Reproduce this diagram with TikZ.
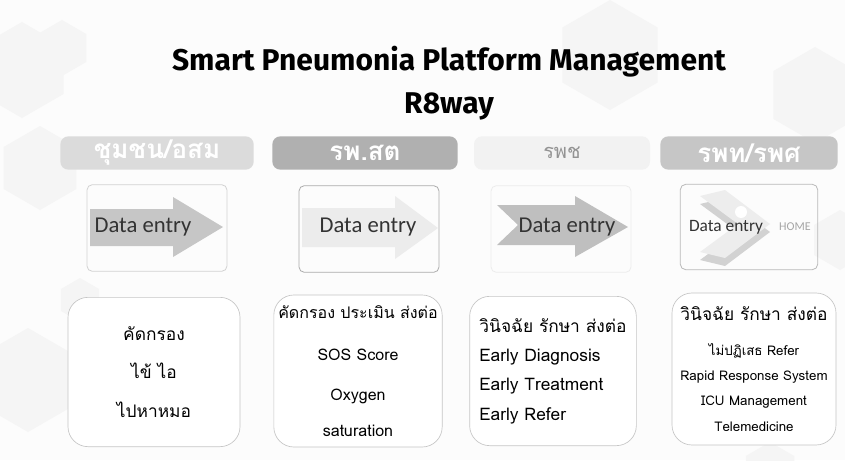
\documentclass[tikz,border=0pt]{standalone}
\usepackage{fontspec}
\usepackage{tikz}
\usetikzlibrary{positioning}
\newfontfamily\thaifont[Script=Thai]{Loma}
\newfontfamily\titlefont{Fira Sans}
\newfontfamily\entryfont{Carlito}

\begin{document}
\begin{tikzpicture}[x=0.75pt, y=-0.75pt, node distance=12pt,
    hexbg/.style={fill=gray!8},
    header/.style={rounded corners=6pt, minimum height=25pt, inner ysep=0pt, text=white, font=\thaifont\bfseries\fontsize{19.5}{22}\selectfont},
    entrybox/.style={draw, rounded corners=4pt, line width=0.6pt, minimum width=105pt, minimum height=65pt},
    entrytext/.style={font=\entryfont\fontsize{17}{19}\selectfont, text=black!80},
    taskbox/.style={draw=gray!45, fill=white, rounded corners=15pt, line width=0.5pt, align=center, minimum width=125pt, minimum height=112pt}]
    \useasboundingbox[fill=gray!2] (0,0) rectangle (845,460);
    % Background hexagons
    \foreach \x/\y/\r in {22/70/48, 62/48/28, 40/168/42, 28/380/52, 80/300/22, 610/55/55, 815/95/48, 770/470/28, 840/240/30}
        \fill[hexbg] (\x,\y) +(90:\r) -- +(150:\r) -- +(210:\r) -- +(270:\r) -- +(330:\r) -- +(30:\r) -- cycle;

    % Define title
    \node[font=\titlefont\bfseries\fontsize{22.5}{26}\selectfont] (title) at (449,62) {Smart Pneumonia Platform Management};
    \node[font=\titlefont\bfseries\fontsize{22.5}{26}\selectfont] (subtitle) [below=4pt of title] {R8way};

    % Define headers
    \node[header, fill=gray!28, minimum width=145pt] (head1) at (157,153) {ชุมชน/อสม};
    \node[header, fill=gray!62, minimum width=139pt] (head2) at (365,153) {รพ.สต};
    \node[header, fill=gray!10, minimum width=132pt, text=gray!85, font=\thaifont\fontsize{15}{18}\selectfont] (head3) at (562,153) {รพช};
    \node[header, fill=gray!45, minimum width=133pt] (head4) at (749,153) {รพท/รพศ};

    % Define data entry boxes
    \node[entrybox, draw=gray!35] (entry1) at (157,228) {};
    \node[entrybox, draw=gray!65] (entry2) at (369,229) {};
    \node[entrybox, draw=gray!15] (entry3) at (561,229) {};
    \node[entrybox, draw=gray!55, minimum width=103pt, minimum height=64pt] (entry4) at (749,227) {};

    \fill[gray!45] (90,209) -- (173,209) -- (173,197) -- (223,227) -- (173,257) -- (173,246) -- (90,246) -- cycle;
    \fill[gray!15] (302,208) -- (395,208) -- (395,196) -- (438,228) -- (395,259) -- (395,247) -- (302,247) -- cycle;
    \fill[gray!50] (497,205) -- (575,205) -- (575,196) -- (628,227) -- (575,257) -- (575,245) -- (497,245) -- (518,225) -- cycle;
    \fill[gray!35] (700,204) -- (725,198) -- (770,232) -- (725,266) -- (700,260) -- (738,232) -- cycle;
    \fill[gray!14] (700,196) -- (725,190) -- (770,224) -- (725,258) -- (700,252) -- (738,224) -- cycle;
    \fill[white] (741,212) circle (6);

    \node[entrytext] (data1) at (143,227) {Data entry};
    \node[entrytext] (data2) at (368,227) {Data entry};
    \node[entrytext] (data3) at (567,227) {Data entry};
    \node[entrytext, font=\entryfont\fontsize{13}{15}\selectfont] (data4) at (726,227) {Data entry};
    \node[entrytext, font=\entryfont\fontsize{9}{10}\selectfont, text=gray!70] (home) at (795,227) {HOME};

    % Define task boxes
    \node[taskbox, minimum width=129pt, font=\thaifont\fontsize{13}{16}\selectfont] (task1) at (154,372) {คัดกรอง\\[13pt]ไข้ ไอ\\[13pt]ไปหาหมอ};
    \node[taskbox, minimum width=123pt, minimum height=114pt, font=\thaifont\fontsize{12}{16}\selectfont] (task2) at (358,371) {คัดกรอง ประเมิน ส่งต่อ\\[15pt]SOS Score\\[14pt]Oxygen\\[11pt]saturation};
    \node[taskbox, align=left, font=\thaifont\fontsize{13}{22}\selectfont] (task3) at (553,371) {วินิจฉัย รักษา ส่งต่อ\\Early Diagnosis\\Early Treatment\\Early Refer};
    \node[taskbox, minimum width=123pt, minimum height=114pt, font=\thaifont\fontsize{10}{19}\selectfont] (task4) at (754,369) {{\fontsize{13}{16}\selectfont วินิจฉัย รักษา ส่งต่อ}\\[7pt]ไม่ปฏิเสธ Refer\\Rapid Response System\\ICU Management\\Telemedicine};
\end{tikzpicture}
\end{document}
